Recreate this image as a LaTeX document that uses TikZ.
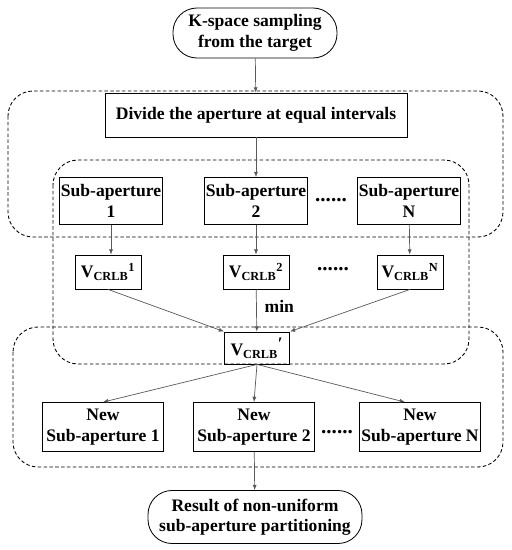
\documentclass[tikz,border=0pt]{standalone}
\usepackage{fontspec}
\setmainfont{Liberation Serif}
\usetikzlibrary{arrows.meta}

\tikzset{
    term/.style={draw, line width=0.7pt, rounded corners=0.72cm, align=center,
        font=\bfseries\fontsize{15}{17.5}\selectfont, inner sep=1pt},
    box/.style={draw, line width=0.7pt, align=center,
        font=\bfseries\fontsize{15}{17.5}\selectfont, inner sep=1pt},
    group/.style={dashed, dash pattern=on 3pt off 2pt, line width=0.75pt, rounded corners=0.75cm},
    link/.style={draw=black!65, line width=0.6pt, -{Latex[length=4.5pt,width=3.5pt]}},
    more/.style={font=\bfseries\fontsize{18}{18}\selectfont},
}
\newcommand{\vcrlb}[1]{V\textsubscript{CRLB}\textsuperscript{#1}}

\begin{document}
\begin{tikzpicture}[x=0.03cm, y=-0.03cm]
    \useasboundingbox (0,0) rectangle (512,550);

    % dashed groups
    \draw[group] (8,91)   rectangle (503,237);
    \draw[group] (53,160) rectangle (469,364);
    \draw[group] (13,327) rectangle (503,467);

    % flow
    \node[term, minimum width=4.92cm, minimum height=1.5cm] (target) at (255,33)
        {K-space sampling\\from the target};
    \node[box, minimum width=9.06cm, minimum height=1.32cm] (divide) at (256,115)
        {Divide the aperture at equal intervals};

    \node[box, minimum width=3.09cm, minimum height=1.41cm] (sub1) at (111,201) {Sub-aperture\\1};
    \node[box, minimum width=3.09cm, minimum height=1.41cm] (sub2) at (256,201) {Sub-aperture\\2};
    \node[box, minimum width=3.09cm, minimum height=1.41cm] (subN) at (409,201) {Sub-aperture\\N};
    \node[more] (dotsA) at (331,200) {......};

    \node[box, minimum width=1.98cm, minimum height=1.02cm] (v1) at (108,272) {\vcrlb{1}};
    \node[box, minimum width=1.98cm, minimum height=1.02cm] (v2) at (256,272) {\vcrlb{2}};
    \node[box, minimum width=1.98cm, minimum height=1.02cm] (vN) at (410,272) {\vcrlb{N}};
    \node[more] (dotsB) at (333,269) {......};

    \node[box, minimum width=1.95cm, minimum height=0.96cm] (vmin) at (257,348)
        {\vcrlb{\fontsize{15}{15}\selectfont\char"2032}};

    \node[box, minimum width=3.63cm, minimum height=1.47cm] (new1) at (103,427) {New\\Sub-aperture 1};
    \node[box, minimum width=3.63cm, minimum height=1.47cm] (new2) at (254,427) {New\\Sub-aperture 2};
    \node[box, minimum width=3.63cm, minimum height=1.47cm] (newN) at (420,427) {New\\Sub-aperture N};
    \node[more] (dotsC) at (337,432) {......};

    \node[term, minimum width=6.42cm, minimum height=1.59cm] (result) at (255,517)
        {Result of non-uniform\\sub-aperture partitioning};

    % connectors
    \draw[link] (target) -- (divide);
    \draw[link] (divide) -- (sub2);
    \draw[link] (sub1.south) -- (sub1.south |- v1.north);
    \draw[link] (sub2) -- (v2);
    \draw[link] (subN) -- (vN);
    \draw[link] (v1.south) -- (vmin.north west);
    \draw[link] (v2) -- (vmin) node[pos=0.4, right=0.2cm, box, draw=none] {min};
    \draw[link] (vN.south) -- (vmin.north east);
    \draw[link] (vmin.south) -- (new1.north);
    \draw[link] (vmin.south) -- (new2.north);
    \draw[link] (vmin.south) -- ([xshift=-0.45cm]newN.north);
    \draw[link] (new2) -- (result);
\end{tikzpicture}
\end{document}
